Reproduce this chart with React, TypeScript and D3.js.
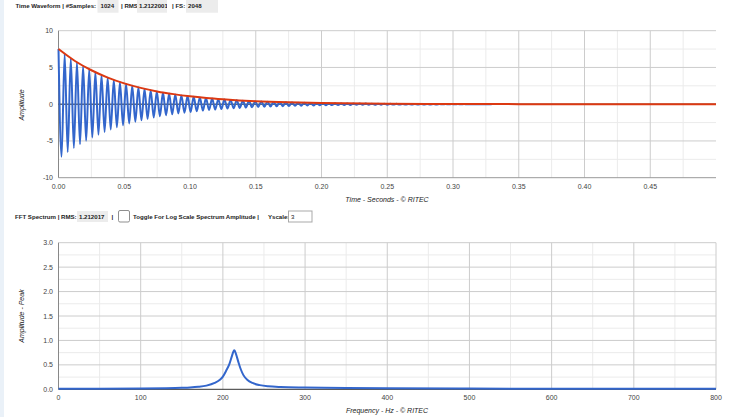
import React from "react";
import * as d3 from "d3";

// ---- Data ----
const sampleCount = "1024";
const rmsTime = "1.2122001";
const sampleRate = "2048";
const rmsFft = "1.212017";
const yScaleValue = "3";

const timeTicks = [0, 0.05, 0.1, 0.15, 0.2, 0.25, 0.3, 0.35, 0.4, 0.45];
const ampTicks = [-10, -5, 0, 5, 10];
const freqTicks = [0, 100, 200, 300, 400, 500, 600, 700, 800];
const specTicks = [0, 0.5, 1, 1.5, 2, 2.5, 3];

const waveHz = 214;
// positive peak value of each cycle
const peakValues = [
  7.5, 6.84, 6.25, 5.7, 5.2, 4.75, 4.33, 3.95, 3.61, 3.29, 3.0, 2.74, 2.5, 2.28, 2.08, 1.9, 1.73, 1.58,
  1.44, 1.32, 1.2, 1.1, 1.0, 0.91, 0.83, 0.76, 0.69, 0.63, 0.58, 0.53, 0.48, 0.44, 0.4, 0.37, 0.33, 0.3,
  0.28, 0.25, 0.23, 0.21, 0.19, 0.18, 0.16, 0.15, 0.13, 0.12, 0.11, 0.1, 0.09, 0.08, 0.08, 0.07, 0.06,
  0.06, 0.05, 0.05, 0.04, 0.04, 0.04, 0.03, 0.03, 0.03, 0.02, 0.02, 0.02, 0.02, 0.02, 0.01, 0.01, 0.01, 0.01,
];
// negative trough value of each cycle
const troughValues = [
  -7.16, -6.53, -5.97, -5.44, -4.97, -4.54, -4.14, -3.77, -3.45, -3.14, -2.87, -2.62, -2.39, -2.18, -1.99,
  -1.81, -1.65, -1.51, -1.38, -1.26, -1.15, -1.05, -0.96, -0.87, -0.79, -0.73, -0.66, -0.6, -0.55, -0.51,
  -0.46, -0.42, -0.38, -0.35, -0.32, -0.29, -0.27, -0.24, -0.22, -0.2, -0.18, -0.17, -0.15, -0.14, -0.12,
  -0.11, -0.1, -0.1, -0.09, -0.08, -0.08, -0.07, -0.06, -0.06, -0.05, -0.05, -0.04, -0.04, -0.04, -0.03,
  -0.03, -0.03, -0.02, -0.02, -0.02, -0.02, -0.02, -0.01, -0.01, -0.01, -0.01,
];
// decay envelope (red)
const envTimes = [0, 0.0125, 0.025, 0.0375, 0.05, 0.0625, 0.075, 0.0875, 0.1, 0.1125, 0.125, 0.1375, 0.15, 0.175, 0.2, 0.25, 0.3, 0.35, 0.4, 0.5];
const envValues = [7.5, 5.88, 4.62, 3.62, 2.83, 2.22, 1.74, 1.37, 1.07, 0.84, 0.66, 0.51, 0.4, 0.25, 0.15, 0.06, 0.02, 0.01, 0, 0];
// FFT spectrum
const specFreqs = [0, 50, 100, 130, 150, 160, 170, 180, 190, 196, 200, 204, 208, 211, 213, 214, 216, 219, 222, 225, 230, 236, 245, 255, 270, 300, 350, 400, 500, 600, 700, 800];
const specAmps = [0.012, 0.013, 0.017, 0.022, 0.03, 0.037, 0.05, 0.075, 0.13, 0.19, 0.26, 0.38, 0.52, 0.68, 0.78, 0.8, 0.72, 0.55, 0.4, 0.29, 0.19, 0.13, 0.085, 0.06, 0.045, 0.035, 0.027, 0.021, 0.015, 0.012, 0.011, 0.01];

const W = 748;
const H = 417;
const FONT = "Arial, 'Liberation Sans', sans-serif";
const BLUE = "#3366cc";
const RED = "#dc3912";
const MAJOR = "#cccccc";
const MINOR = "#ebebeb";
const LABEL = "#444444";

const xL = 58.5;
const xR = 716;

export default function App() {
  const xT = d3.scaleLinear().domain([0, 0.5]).range([xL, xR]);
  const yT = d3.scaleLinear().domain([-10, 10]).range([177.7, 30.7]);
  const xF = d3.scaleLinear().domain([0, 800]).range([xL, xR]);
  const yF = d3.scaleLinear().domain([0, 3]).range([389.3, 242.7]);

  const period = 1 / waveHz;
  const wavePts: [number, number][] = [];
  peakValues.forEach((p, k) => {
    wavePts.push([k * period, p]);
    wavePts.push([(k + 0.5) * period, troughValues[k]]);
  });
  const waveLine = d3
    .line<[number, number]>()
    .x((d) => xT(d[0]))
    .y((d) => yT(d[1]))
    .curve(d3.curveMonotoneX);
  const envLine = d3
    .line<number>()
    .x((_, i) => xT(envTimes[i]))
    .y((d) => yT(d))
    .curve(d3.curveMonotoneX);
  const specLine = d3
    .line<number>()
    .x((_, i) => xF(specFreqs[i]))
    .y((d) => yF(d))
    .curve(d3.curveMonotoneX);

  const tMinor = d3.range(0.025, 0.5, 0.05);
  const tMajor = timeTicks.slice(1);
  const aMinor = [-7.5, -2.5, 2.5, 7.5];
  const fMinor = d3.range(50, 800, 100);
  const sMinor = [0.25, 0.75, 1.25, 1.75, 2.25, 2.75];

  const fmt2 = d3.format(".2f");
  const fmt1 = d3.format(".1f");

  const hdrText = (x: number, y: number, s: string) => (
    <text x={x} y={y} fontSize={6.1} fontWeight="bold" fill="#222">
      {s}
    </text>
  );

  return (
    <svg
      width={W}
      height={H}
      style={{ position: "absolute", left: 0, top: 0, background: "#fff" }}
      fontFamily={FONT}
    >
      <defs>
        <clipPath id="c1"><rect x={137} y={0} width={30} height={13} /></clipPath>
        <clipPath id="c2"><rect x={77} y={211} width={31} height={11} /></clipPath>
      </defs>
      <rect x={0} y={0} width={W} height={H} fill="#fff" />
      <rect x={0} y={0} width={4} height={H} fill="#eaf1f8" />

      {/* header 1 */}
      {hdrText(15.5, 8, "Time Waveform | #Samples:")}
      <rect x={97.5} y={0} width={21} height={12.7} fill="#ececec" />
      {hdrText(100.5, 8, sampleCount)}
      {hdrText(121, 8, "| RMS:")}
      <rect x={137} y={0} width={30} height={12.7} fill="#ececec" />
      <g clipPath="url(#c1)">{hdrText(139, 8, rmsTime)}</g>
      {hdrText(172, 8, "| FS:")}
      <rect x={186} y={0} width={32} height={12.7} fill="#ececec" />
      {hdrText(188, 8, sampleRate)}

      {/* top chart grid */}
      {tMinor.map((t) => (
        <line key={"tm" + t} x1={xT(t)} x2={xT(t)} y1={30.7} y2={177.7} stroke={MINOR} />
      ))}
      {aMinor.map((a) => (
        <line key={"am" + a} x1={xL} x2={xR} y1={yT(a)} y2={yT(a)} stroke={MINOR} />
      ))}
      {tMajor.map((t) => (
        <line key={"tM" + t} x1={xT(t)} x2={xT(t)} y1={30.7} y2={177.7} stroke={MAJOR} />
      ))}
      {ampTicks.map((a) => (
        <line key={"aM" + a} x1={xL} x2={xR} y1={yT(a)} y2={yT(a)} stroke={a === -10 ? "#999" : MAJOR} />
      ))}
      <line x1={xL} x2={xL} y1={30.7} y2={177.7} stroke="#888" />
      <line x1={xL} x2={xR} y1={yT(0)} y2={yT(0)} stroke="#333" />
      {ampTicks.map((a) => (
        <text key={"al" + a} x={53} y={yT(a) + 2.5} fontSize={7} fill={LABEL} textAnchor="end">
          {a}
        </text>
      ))}
      {timeTicks.map((t) => (
        <text key={"tl" + t} x={xT(t)} y={189} fontSize={7} fill={LABEL} textAnchor="middle">
          {fmt2(t)}
        </text>
      ))}
      <text x={387} y={202} fontSize={7} fontStyle="italic" fill="#222" textAnchor="middle">
        Time - Seconds - © RITEC
      </text>
      <text transform="translate(24,105) rotate(-90)" fontSize={7} fontStyle="italic" fill="#222" textAnchor="middle">
        Amplitude
      </text>

      <path d={waveLine(wavePts) || ""} fill="none" stroke={BLUE} strokeWidth={2} />
      <path d={envLine(envValues) || ""} fill="none" stroke={RED} strokeWidth={2} />

      {/* header 2 */}
      {hdrText(15, 219, "FFT Spectrum |  RMS:")}
      <rect x={77} y={211} width={31} height={11} fill="#ececec" />
      <g clipPath="url(#c2)">{hdrText(79, 219, rmsFft)}</g>
      {hdrText(111.5, 219, "|")}
      <rect x={118.5} y={210.5} width={11} height={11.5} rx={1.5} fill="#fff" stroke="#8f8f8f" />
      {hdrText(133, 219, "Toggle For Log Scale Spectrum Amplitude |")}
      {hdrText(268, 219, "Yscale:")}
      <rect x={288.5} y={211} width={23.5} height={11} fill="#fff" stroke="#a9a9a9" />
      <text x={291} y={219} fontSize={6.1} fill="#222">{yScaleValue}</text>

      {/* bottom chart grid */}
      {fMinor.map((f) => (
        <line key={"fm" + f} x1={xF(f)} x2={xF(f)} y1={242.7} y2={389.3} stroke={MINOR} />
      ))}
      {sMinor.map((s) => (
        <line key={"sm" + s} x1={xL} x2={xR} y1={yF(s)} y2={yF(s)} stroke={MINOR} />
      ))}
      {freqTicks.slice(1).map((f) => (
        <line key={"fM" + f} x1={xF(f)} x2={xF(f)} y1={242.7} y2={389.3} stroke={MAJOR} />
      ))}
      {specTicks.slice(1).map((s) => (
        <line key={"sM" + s} x1={xL} x2={xR} y1={yF(s)} y2={yF(s)} stroke={MAJOR} />
      ))}
      <line x1={xL} x2={xL} y1={242.7} y2={389.3} stroke="#888" />
      <line x1={xL} x2={xR} y1={389.3} y2={389.3} stroke="#333" />
      {specTicks.map((s) => (
        <text key={"sl" + s} x={53} y={yF(s) + 2.5} fontSize={7} fill={LABEL} textAnchor="end">
          {fmt1(s)}
        </text>
      ))}
      {freqTicks.map((f) => (
        <text key={"fl" + f} x={xF(f)} y={400} fontSize={7} fill={LABEL} textAnchor="middle">
          {f}
        </text>
      ))}
      <text x={387} y={413} fontSize={7} fontStyle="italic" fill="#222" textAnchor="middle">
        Frequency - Hz - © RITEC
      </text>
      <text transform="translate(24,316) rotate(-90)" fontSize={7} fontStyle="italic" fill="#222" textAnchor="middle">
        Amplitude - Peak
      </text>

      <path d={specLine(specAmps) || ""} fill="none" stroke={BLUE} strokeWidth={2} />
    </svg>
  );
}
